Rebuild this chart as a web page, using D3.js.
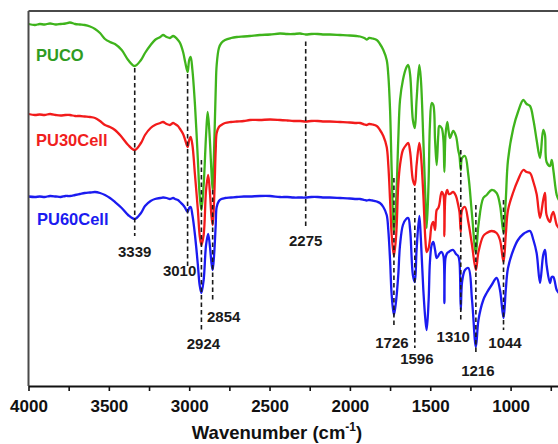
<!DOCTYPE html>
<html>
<head>
<meta charset="utf-8">
<script src="https://cdn.jsdelivr.net/npm/d3@7"></script>
<style>
  html, body { margin: 0; padding: 0; background: #fff; }
  svg { display: block; font-family: "Liberation Sans", Arial, sans-serif; }
</style>
</head>
<body>
<svg id="chart" width="558" height="444"></svg>
<script>
// FTIR spectra: [wavenumber (cm-1), transmittance (a.u., stacked)]
const seriesNames = ["PUCO", "PU30Cell", "PU60Cell"];

const puco = [
  [4000,362],[3960,361],[3930,362],[3900,361.5],[3866,362.5],[3830,361.5],[3800,362],[3770,362.5],
  [3742,363.5],[3710,362],[3680,361.5],[3650,361],[3617,359.5],[3586,357],[3555,353],[3524,347],
  [3493,344],[3462,342],[3420,336],[3380,326],[3339,320],[3300,326],[3275,333],[3240,341],
  [3213,346],[3180,349],[3163,351],[3140,349],[3120,348],[3100,350],[3088,349],[3070,346],
  [3057,343],[3038,334],[3025,324],[3010,314],[3000,326],[2991,329],[2980,316],[2964,281],
  [2946,226],[2935,191],[2924,176],[2910,201],[2895,251],[2885,274],[2875,256],[2862,216],
  [2854,196],[2845,236],[2835,296],[2829,321],[2815,338],[2800,343],[2777,346],[2740,348],
  [2704,349],[2660,349.5],[2622,350],[2560,351],[2497,351.5],[2435,352.5],[2390,352],[2350,352],
  [2310,352.5],[2275,351.5],[2240,352],[2200,352],[2160,351.5],[2124,351.5],[2060,351],[2000,350.5],
  [1960,350],[1937,349.5],[1910,348],[1896,346.5],[1880,348],[1860,347.5],[1833,346],[1813,342],
  [1792,336],[1771,326],[1761,311],[1750,276],[1740,216],[1726,153],[1712,186],[1699,246],
  [1688,286],[1670,306],[1650,318],[1637,321],[1625,311],[1608,266],[1596,258],[1585,286],
  [1568,321],[1558,306],[1543,246],[1530,186],[1522,158],[1510,206],[1502,261],[1491,283],
  [1481,281],[1470,246],[1460,221],[1450,251],[1444,260],[1429,258],[1418,246],[1412,214],
  [1405,251],[1394,264],[1385,254],[1377,248],[1357,255],[1340,250],[1326,236],[1318,230],
  [1310,216],[1302,228],[1284,230],[1263,211],[1240,171],[1216,133],[1200,161],[1170,188],
  [1149,191],[1118,196],[1087,193],[1066,181],[1044,153],[1030,186],[1016,226],[983,258],
  [954,274],[921,286],[900,282],[879,280],[858,266],[838,246],[817,228],[797,256],
  [786,251],[776,224],[755,220],[744,226],[734,216],[713,191],[700,186]
];

const pu30cell = [
  [4000,272],[3960,271],[3930,271.5],[3900,271],[3866,272],[3830,271],[3800,270.5],[3770,271],
  [3742,271],[3710,270],[3680,270],[3650,269.5],[3617,269],[3586,268],[3555,265],[3524,261],
  [3493,259],[3462,256],[3420,249],[3380,241],[3339,236],[3300,243],[3275,251],[3240,258],
  [3213,261],[3180,263],[3163,264],[3140,262],[3120,261],[3100,263],[3088,262],[3070,260],
  [3057,257],[3038,252],[3025,246],[3010,239],[3000,246],[2991,249],[2980,241],[2964,211],
  [2946,176],[2935,151],[2924,141],[2910,151],[2895,196],[2882,211],[2870,191],[2862,171],
  [2854,161],[2845,186],[2835,236],[2829,253],[2815,259],[2800,261],[2777,263],[2740,264],
  [2704,264.5],[2660,265],[2622,266],[2560,266],[2497,266.5],[2435,266],[2390,265.5],[2350,265],
  [2310,265],[2275,264.5],[2240,265],[2200,265],[2160,264.5],[2124,264.5],[2060,264],[2000,263.5],
  [1960,263],[1937,263],[1910,261.5],[1896,261],[1880,262],[1860,261.5],[1833,260],[1813,256],
  [1792,250],[1771,239],[1761,221],[1750,186],[1740,151],[1726,130],[1712,151],[1699,201],
  [1688,221],[1670,236],[1650,241],[1637,243],[1625,234],[1608,206],[1596,201],[1585,221],
  [1568,243],[1558,231],[1543,191],[1530,146],[1522,134],[1510,138],[1502,146],[1491,161],
  [1481,164],[1470,156],[1460,176],[1450,178],[1444,181],[1429,194],[1418,191],[1412,150],
  [1405,190],[1394,196],[1385,192],[1377,192],[1357,194],[1340,190],[1326,181],[1318,174],
  [1310,154],[1302,176],[1284,179],[1263,164],[1240,141],[1216,116],[1200,134],[1170,150],
  [1149,153],[1118,155],[1087,153],[1066,146],[1044,124],[1030,151],[1016,176],[983,194],
  [954,206],[921,216],[900,214],[879,213],[858,204],[838,192],[817,168],[797,186],
  [786,193],[776,171],[755,164],[744,171],[734,174],[713,161],[700,158]
];

const pu60cell = [
  [4000,189.5],[3960,189],[3930,189.5],[3900,189],[3866,190],[3830,189.5],[3800,189],[3770,190],
  [3742,190],[3710,191],[3680,192],[3650,193],[3617,193.5],[3586,194],[3555,193],[3524,191],
  [3493,188],[3462,184],[3420,178],[3380,171],[3339,167],[3300,173],[3275,180],[3240,185],
  [3213,187],[3180,188],[3163,188.5],[3140,188],[3120,187],[3100,188],[3088,187],[3070,186],
  [3057,184],[3038,181],[3025,178],[3010,174],[3000,178],[2991,179],[2980,171],[2964,151],
  [2946,121],[2935,101],[2924,93],[2910,106],[2895,141],[2882,152],[2870,138],[2862,124],
  [2854,116],[2845,131],[2835,161],[2829,179],[2815,185],[2800,187],[2777,188],[2740,188.5],
  [2704,189],[2660,189.5],[2622,189.5],[2560,190],[2497,190],[2435,189],[2390,189],[2350,188.5],
  [2310,188.5],[2275,188.5],[2240,189],[2200,189],[2160,188.5],[2124,188.5],[2060,188],[2000,187.5],
  [1960,187],[1937,187],[1910,186],[1896,185.5],[1880,186],[1860,185.5],[1833,184.5],[1813,183],
  [1792,179],[1771,171],[1761,156],[1750,126],[1740,91],[1726,71],[1712,86],[1699,111],
  [1688,141],[1670,161],[1650,167],[1637,168],[1625,156],[1608,111],[1596,104],[1585,136],
  [1568,170],[1558,146],[1543,96],[1530,66],[1522,56],[1510,86],[1502,124],[1491,141],
  [1481,144],[1470,136],[1460,128],[1450,130],[1444,132],[1429,134],[1418,130],[1412,83],
  [1405,128],[1394,133],[1385,134],[1377,135],[1357,136],[1340,132],[1326,130],[1318,124],
  [1310,76],[1302,104],[1284,116],[1263,118],[1240,86],[1216,39],[1200,66],[1170,86],
  [1149,93],[1118,101],[1087,108],[1066,96],[1044,68],[1030,96],[1016,118],[983,136],
  [954,146],[921,152],[900,154],[879,155],[858,146],[838,133],[817,103],[797,131],
  [786,136],[776,121],[755,103],[744,109],[734,109],[713,96],[700,93]
];

// Marked band positions (cm-1)
const bandPositions = [3339, 3010, 2924, 2854, 2275, 1726, 1596, 1310, 1216, 1044];

const xTicks = [4000, 3750, 3500, 3250, 3000, 2750, 2500, 2250, 2000, 1750, 1500, 1250, 1000, 750];
const xTickLabels = ["4000", "", "3500", "", "3000", "", "2500", "", "2000", "", "1500", "", "1000", ""];

// ---- layout ----
const svg = d3.select("#chart");
const plotLeft = 28.5, plotRight = 558.8, plotTop = 11, plotBottom = 386;

const x = d3.scaleLinear().domain([4000, 700]).range([plotLeft, plotRight]);
const y = d3.scaleLinear().domain([0, 375]).range([plotBottom, plotTop]);

const colors = ["#3fb41c", "#f21b1b", "#1b1bf0"];
const labelColors = ["#2f9c22", "#f01e1e", "#1b1bf0"];

svg.append("defs").append("clipPath").attr("id", "plot-clip")
  .append("rect").attr("x", plotLeft).attr("y", plotTop)
  .attr("width", plotRight - plotLeft).attr("height", plotBottom - plotTop);

// spectra
const line = d3.line()
  .x(d => x(d[0]))
  .y(d => y(d[1]))
  .curve(d3.curveCatmullRom.alpha(0.5));

const plot = svg.append("g").attr("clip-path", "url(#plot-clip)");
[puco, pu30cell, pu60cell].forEach((s, i) => {
  plot.append("path")
    .datum(s)
    .attr("fill", "none")
    .attr("stroke", colors[i])
    .attr("stroke-width", 2.3)
    .attr("stroke-linejoin", "round")
    .attr("d", line);
});

// band markers: dashed guide from trace region down to the label
// [top T, bottom T, label dx, label baseline T]
const markerLayout = {
  3339: [318, 150, 0, 129],
  3010: [312, 120, -8, 110],
  2924: [226, 56, 2, 37.5],
  2854: [196, 84, 11, 64],
  2275: [344.5, 159, 0, 140],
  1726: [208, 59, -2, 38],
  1596: [198, 38, 2, 22.5],
  1310: [236, 66, -7.5, 44.5],
  1216: [181, 34, 2, 10.5],
  1044: [186, 56, 1.5, 38.5]
};

const marks = svg.append("g");
bandPositions.forEach(b => {
  const [t0, t1, dx, ty] = markerLayout[b];
  marks.append("line")
    .attr("x1", x(b)).attr("x2", x(b))
    .attr("y1", y(t0)).attr("y2", y(t1))
    .attr("stroke", "#1a1a1a")
    .attr("stroke-width", 1.6)
    .attr("stroke-dasharray", "4.5,3");
  marks.append("text")
    .attr("x", x(b) + dx)
    .attr("y", y(ty))
    .attr("text-anchor", "middle")
    .attr("font-size", 15)
    .attr("font-weight", "bold")
    .attr("fill", "#1a1a1a")
    .text(b);
});

// series names
const nameBaselines = [325, 240.5, 161.5];
seriesNames.forEach((n, i) => {
  svg.append("text")
    .attr("x", 36 + (i === 2 ? 1 : 0))
    .attr("y", y(nameBaselines[i]))
    .attr("font-size", 16.5)
    .attr("font-weight", "bold")
    .attr("fill", labelColors[i])
    .text(n);
});

// frame: left and top edges
svg.append("line")
  .attr("x1", plotLeft).attr("x2", plotLeft).attr("y1", plotTop).attr("y2", plotBottom)
  .attr("stroke", "#4a4a4a").attr("stroke-width", 2);
svg.append("line")
  .attr("x1", plotLeft).attr("x2", 560).attr("y1", plotTop).attr("y2", plotTop)
  .attr("stroke", "#4a4a4a").attr("stroke-width", 2);

// bottom axis
const xAxis = d3.axisBottom(x)
  .tickValues(xTicks)
  .tickFormat((d, i) => xTickLabels[i])
  .tickSize(5)
  .tickSizeOuter(0)
  .tickPadding(9);

const gx = svg.append("g")
  .attr("transform", `translate(0,${plotBottom})`)
  .call(xAxis);
gx.select(".domain").attr("stroke", "#111").attr("stroke-width", 2);
gx.selectAll(".tick line").attr("stroke", "#111").attr("stroke-width", 1.6);
gx.selectAll(".tick text")
  .attr("font-size", 17)
  .attr("font-weight", "bold")
  .attr("fill", "#111")
  .attr("font-family", "'Liberation Sans', Arial, sans-serif");

// axis title
const title = svg.append("text")
  .attr("x", 277)
  .attr("y", 439)
  .attr("text-anchor", "middle")
  .attr("font-size", 18.5)
  .attr("font-weight", "bold")
  .attr("fill", "#111");
title.append("tspan").text("Wavenumber (cm");
title.append("tspan").attr("font-size", 12).attr("dy", -8).text("-1");
title.append("tspan").attr("dy", 8).text(")");
</script>
</body>
</html>
